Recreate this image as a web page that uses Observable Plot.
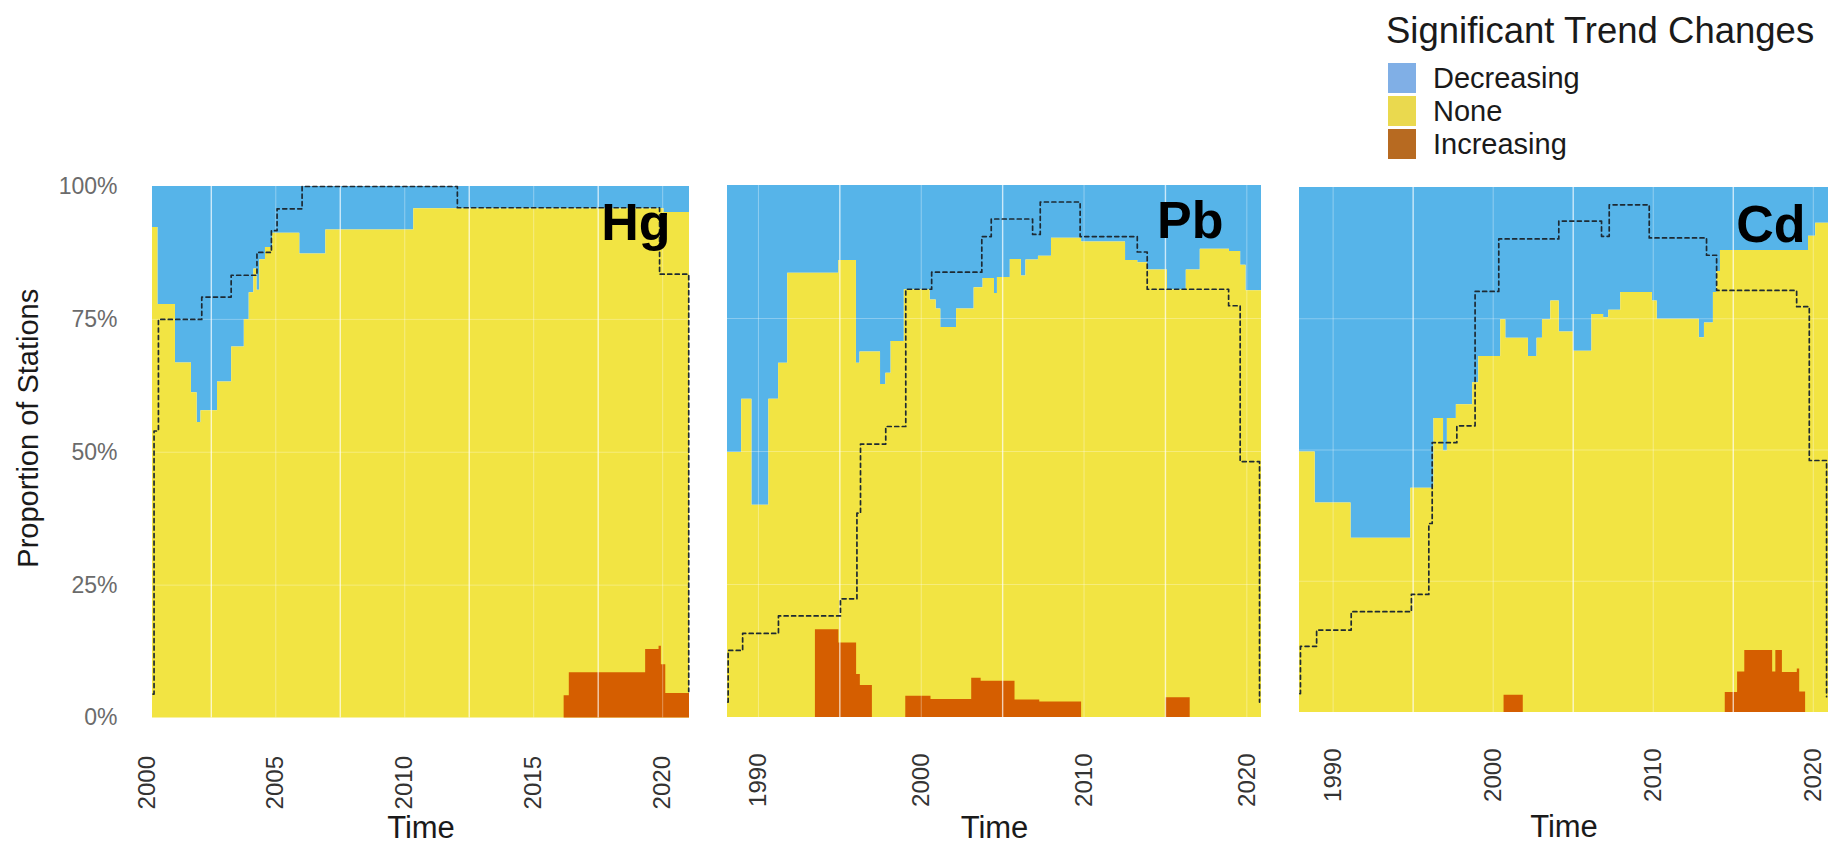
<!DOCTYPE html>
<html><head><meta charset="utf-8">
<script src="https://cdn.jsdelivr.net/npm/d3@7"></script>
<script src="https://cdn.jsdelivr.net/npm/@observablehq/plot@0.6"></script>
<style>
body{margin:0;background:#fff;font-family:Arial,"Liberation Sans",sans-serif;}
#wrap{position:relative;width:1838px;height:848px;overflow:hidden;background:#fff}
.panel{position:absolute;top:0}
.panel svg{display:block;max-width:none}
#legend{position:absolute;left:0;top:0;width:1838px;height:170px;pointer-events:none}
</style></head><body>
<div id="wrap">
 <div id="hg" class="panel" style="left:0;width:700px"></div>
 <div id="pb" class="panel" style="left:700px;width:575px"></div>
 <div id="cd" class="panel" style="left:1275px;width:563px"></div>
 <div id="legend"></div>
</div>
<script>
// ---------- categories & colours ----------
const categories = ["Decreasing", "None", "Increasing"];
const fillColors = ["#56B4E9", "#F2E443", "#D55E00"];
const legendColors = ["#80AFE6", "#EAD94E", "#B76A21"];
const legendTitle = "Significant Trend Changes";
const yTitle = "Proportion of Stations";
const xTitle = "Time";
const yTicks = [0, 25, 50, 75, 100];
const yTickLabels = ["0%", "25%", "50%", "75%", "100%"];

// ---------- Hg ----------
const hgTicks = [2000, 2005, 2010, 2015, 2020];
const hgMajorGrid = [2005, 2010, 2015, 2020];
const hgMinorGrid = [2002.5, 2007.5, 2012.5, 2017.5];
const hgDecT = [2000.22, 2000.43, 2001.11, 2001.73, 2001.95, 2002.1, 2002.74, 2003.29, 2003.78, 2003.97, 2004.15, 2004.27, 2004.38, 2004.6, 2004.88, 2005.93, 2006.94, 2010.35, 2020.05];
const hgDecV = [7.7, 22.2, 33.2, 38.8, 44.4, 42.2, 36.8, 30.2, 25, 20, 15.5, 19.5, 13.8, 11.5, 8.8, 12.7, 8.2, 4.2, 4.9];
const hgIncT = [2000.22, 2016.18, 2016.38, 2019.34, 2019.86, 2019.95, 2020.12];
const hgIncV = [0, 4.2, 8.5, 12.9, 13.5, 10, 4.6];
const hgStaT = [2000.24, 2000.28, 2000.45, 2002.13, 2003.27, 2004.27, 2004.83, 2005.05, 2006.02, 2012.04, 2019.88, 2021.01];
const hgStaV = [4.5, 54, 75, 79.2, 83.3, 87.6, 91.7, 95.8, 100, 96, 83.5, 5];
const hgEnd = 2021.04;

// ---------- Pb ----------
const pbTicks = [1990, 2000, 2010, 2020];
const pbMajorGrid = [1990, 2000, 2010, 2020];
const pbMinorGrid = [1995, 2005, 2015];
const pbDecT = [1988.1, 1988.97, 1989.6, 1990.64, 1991.24, 1991.8, 1994.94, 1996.02, 1996.24, 1997.5, 1997.83, 1998.15, 1998.96, 2000.55, 2000.92, 2001.2, 2002.17, 2003.25, 2003.8, 2004.5, 2004.68, 2005.47, 2006.15, 2006.43, 2007.2, 2008.0, 2009.85, 2012.55, 2013.3, 2013.9, 2015.12, 2016.28, 2017.14, 2018.93, 2019.62, 2019.95];
const pbDecV = [50.2, 40.2, 60.1, 40.2, 33.4, 16.5, 14.1, 33.4, 31.3, 37.4, 35.3, 29.3, 19.6, 21.5, 23.2, 26.7, 23.2, 19.2, 17.5, 20.3, 17.3, 13.9, 17, 14, 13.3, 9.9, 10.6, 14.1, 14.5, 15.9, 19.6, 15.9, 12, 12.4, 15, 19.8];
const pbIncT = [1988.1, 1993.5, 1994.94, 1996.03, 1996.26, 1997.0, 1999.05, 2000.6, 2003.1, 2003.68, 2005.76, 2007.28, 2009.85, 2015.02, 2016.52];
const pbIncV = [0, 16.5, 14, 8.1, 6, 0, 4, 3.4, 7.4, 6.8, 3.3, 2.9, 0, 3.7, 0];
const pbStaT = [1988.12, 1988.14, 1989.03, 1991.23, 1995.04, 1996.05, 1996.27, 1997.82, 1999.05, 2000.64, 2003.72, 2004.3, 2006.84, 2007.31, 2009.76, 2013.27, 2013.88, 2018.88, 2019.59, 2020.78];
const pbStaV = [2.9, 12.6, 15.8, 19.1, 22.3, 38.4, 51.4, 54.7, 80.5, 83.7, 90.4, 93.7, 90.8, 96.9, 90.4, 87.5, 80.5, 77.4, 48.1, 2.9];
const pbEnd = 2020.9;

// ---------- Cd ----------
const cdTicks = [1990, 2000, 2010, 2020];
const cdMajorGrid = [1990, 2000, 2010, 2020];
const cdMinorGrid = [1995, 2005, 2015];
const cdDecT = [1987.9, 1988.88, 1991.12, 1994.85, 1996.3, 1996.9, 1997.14, 1997.7, 1998.72, 1999.1, 2000.47, 2000.79, 2002.2, 2002.74, 2003.08, 2003.6, 2004.13, 2005.02, 2006.17, 2006.9, 2007.22, 2007.97, 2009.95, 2010.25, 2012.88, 2013.2, 2013.76, 2013.98, 2014.2, 2019.7, 2020.15];
const cdDecV = [50.4, 60.1, 66.8, 57.3, 44, 50.2, 44, 41.4, 37.2, 32.2, 25.2, 28.7, 32.2, 28.7, 25.2, 21.6, 27.5, 31.2, 24.2, 24.8, 23.4, 20, 21.6, 25.1, 28.6, 25.8, 20, 16, 12, 9.3, 6.8];
const cdIncT = [1987.9, 2000.68, 2001.88, 2014.5, 2015.27, 2015.72, 2017.46, 2017.66, 2018.07, 2019.0, 2019.15, 2019.52];
const cdIncV = [0, 3.3, 0, 3.8, 7.7, 11.8, 7.7, 11.8, 7.6, 8.3, 3.9, 0];
const cdStaT = [1987.92, 1987.96, 1988.97, 1991.13, 1994.89, 1995.98, 1996.19, 1997.73, 1998.87, 2000.35, 2004.1, 2006.77, 2007.25, 2009.75, 2013.33, 2013.96, 2018.96, 2019.75, 2020.83];
const cdStaV = [3.6, 12.6, 15.7, 19.2, 22.5, 36, 51.4, 54.6, 80.2, 90.2, 93.6, 90.7, 96.7, 90.4, 87.1, 80.4, 77.3, 48, 3];
const cdEnd = 2020.95;

function steps(ts, vs, end) {
  const rows = ts.map((t, i) => ({t, v: vs[i]}));
  rows.push({t: end, v: vs[vs.length - 1]});
  return rows;
}
function pts(ts, vs) { return ts.map((t, i) => ({t, v: vs[i]})); }

const FONT = 'Arial, "Liberation Sans", sans-serif';

const panels = [
  {id: "hg", name: "Hg", width: 700, mL: 152, mR: 11, mT: 186, mB: 130.5, domain: [2000.22, hgEnd],
   ticks: hgTicks, major: hgMajorGrid, minor: hgMinorGrid,
   dec: steps(hgDecT, hgDecV, hgEnd), inc: steps(hgIncT, hgIncV, hgEnd), sta: pts(hgStaT, hgStaV),
   yAxis: true, labDx: -19, labDy: 37, tickDy: 38, timeDy: 110},
  {id: "pb", name: "Pb", width: 575, mL: 27, mR: 14, mT: 185, mB: 131, domain: [1988.1, pbEnd],
   ticks: pbTicks, major: pbMajorGrid, minor: pbMinorGrid,
   dec: steps(pbDecT, pbDecV, pbEnd), inc: steps(pbIncT, pbIncV, pbEnd), sta: pts(pbStaT, pbStaV),
   yAxis: false, labDx: -38, labDy: 36, tickDy: 36, timeDy: 110.5},
  {id: "cd", name: "Cd", width: 563, mL: 24, mR: 10, mT: 187, mB: 136, domain: [1987.9, cdEnd],
   ticks: cdTicks, major: cdMajorGrid, minor: cdMinorGrid,
   dec: steps(cdDecT, cdDecV, cdEnd), inc: steps(cdIncT, cdIncV, cdEnd), sta: pts(cdStaT, cdStaV),
   yAxis: false, labDx: -23, labDy: 38, tickDy: 36, timeDy: 114.5}
];

for (const p of panels) {
  const marks = [
    Plot.areaY(p.dec, {x: "t", y1: d => 100 - d.v, y2: 100, curve: "step-after", fill: fillColors[0]}),
    Plot.areaY(p.dec, {x: "t", y1: 0, y2: d => 100 - d.v, curve: "step-after", fill: fillColors[1]}),
    Plot.areaY(p.inc, {x: "t", y1: 0, y2: "v", curve: "step-after", fill: fillColors[2]}),
    Plot.ruleY([25, 50, 75], {stroke: "white", strokeOpacity: 0.3, strokeWidth: 1}),
    Plot.ruleX(p.major, {stroke: "white", strokeOpacity: 0.35, strokeWidth: 1}),
    Plot.ruleX(p.minor, {stroke: "white", strokeOpacity: 0.7, strokeWidth: 1.4}),
    Plot.line(p.sta, {x: "t", y: "v", curve: "step-after", stroke: "#1e2a33", strokeWidth: 1.7, strokeDasharray: "4,3.5"}),
    Plot.text([p.name], {text: d => d, frameAnchor: "top-right", textAnchor: "end", lineAnchor: "middle",
      dx: p.labDx, dy: p.labDy, fontSize: 52, fontWeight: "bold", fill: "#000"}),
    Plot.text(p.ticks, {x: d => d, text: d => String(d), frameAnchor: "bottom", rotate: -90,
      textAnchor: "end", lineAnchor: "middle", dy: p.tickDy, fontSize: 24, fill: "#333"}),
    Plot.text([xTitle], {text: d => d, frameAnchor: "bottom", lineAnchor: "middle", dy: p.timeDy, fontSize: 31, fill: "#1a1a1a"})
  ];
  if (p.yAxis) {
    marks.push(
      Plot.text(yTicks, {y: d => d, text: (d, i) => yTickLabels[i], frameAnchor: "left", textAnchor: "end",
        lineAnchor: "middle", dx: -35, fontSize: 23, fill: "#6b6b6b"}),
      Plot.text([yTitle], {text: d => d, frameAnchor: "left", rotate: -90, textAnchor: "middle",
        lineAnchor: "middle", dx: -124, dy: -24, fontSize: 29, fill: "#1a1a1a"})
    );
  }
  const chart = Plot.plot({
    width: p.width, height: 848,
    marginLeft: p.mL, marginRight: p.mR, marginTop: p.mT, marginBottom: p.mB,
    x: {domain: p.domain, axis: null},
    y: {domain: [0, 100], axis: null},
    style: {background: "transparent", overflow: "visible", fontFamily: FONT},
    marks
  });
  document.getElementById(p.id).appendChild(chart);
}

// ---------- legend ----------
const leg = document.getElementById("legend");
const title = document.createElement("div");
title.textContent = legendTitle;
Object.assign(title.style, {position: "absolute", left: "1386px", top: "13px", fontSize: "36.5px", lineHeight: "36px", color: "#1a1a1a", whiteSpace: "nowrap", fontFamily: FONT});
leg.appendChild(title);
categories.forEach((c, i) => {
  const top = 63 + i * 33;
  const sw = document.createElement("div");
  Object.assign(sw.style, {position: "absolute", left: "1388px", top: top + "px", width: "28px", height: "29.5px", background: legendColors[i]});
  leg.appendChild(sw);
  const lab = document.createElement("div");
  lab.textContent = c;
  Object.assign(lab.style, {position: "absolute", left: "1433px", top: (top + 0.5) + "px", fontSize: "29px", lineHeight: "29.5px", color: "#1a1a1a", whiteSpace: "nowrap", fontFamily: FONT});
  leg.appendChild(lab);
});
</script>
</body></html>
